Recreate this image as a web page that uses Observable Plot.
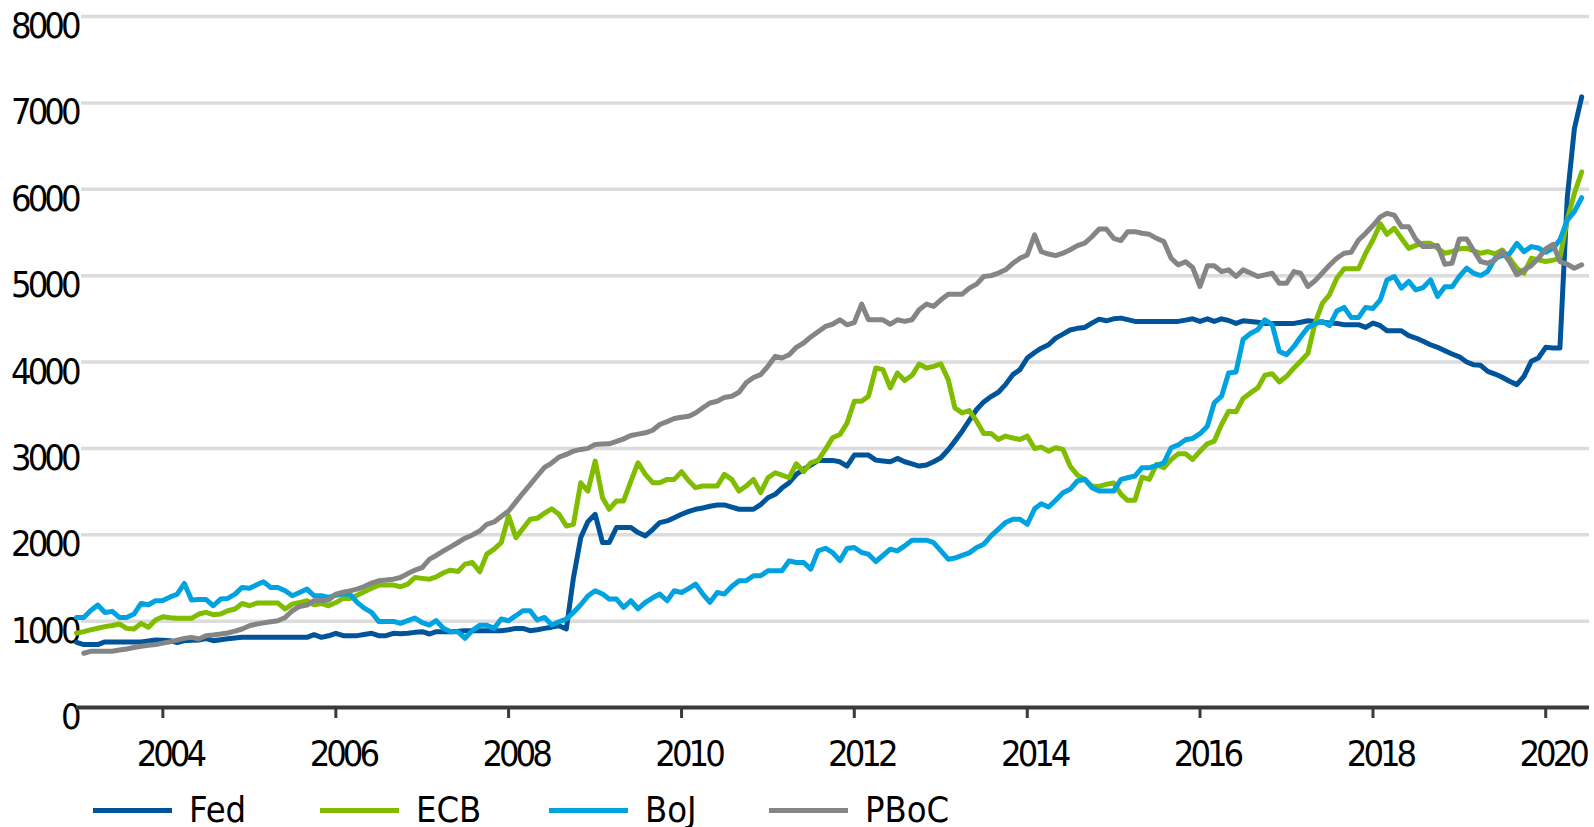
<!DOCTYPE html>
<html><head><meta charset="utf-8">
<script src="https://cdn.jsdelivr.net/npm/d3@7"></script>
<script src="https://cdn.jsdelivr.net/npm/@observablehq/plot@0.6"></script>
<style>
html,body{margin:0;padding:0;background:#fff;}
body{width:1594px;height:827px;overflow:hidden;font-family:"Liberation Sans Narrow","Arial Narrow","DejaVu Sans Condensed",sans-serif;}
#chart svg{display:block;}
#chart svg text{letter-spacing:-4px;}
#legend{position:relative;height:47px;}
.item{position:absolute;top:10px;height:40px;display:flex;align-items:center;font-size:36px;color:#000;line-height:1;}
.sw{width:79px;height:5px;margin-right:17px;}
</style></head><body>
<div id="chart"></div><div id="legend"></div>
<script>
// ---- data: monthly, starting January 2003 ----
const startYear = 2003;
const seriesNames = ["Fed", "ECB", "BoJ", "PBoC"];

const fed = [
 755,728,728,728,759,759,759,759,759,759,770,782,
 780,774,751,774,778,782,797,774,785,797,805,812,
 812,812,812,812,812,812,812,812,812,843,812,830,
 859,832,832,832,845,859,832,832,859,855,859,870,
 878,851,878,878,878,882,889,889,889,889,889,889,
 900,916,916,889,900,916,930,947,909,1500,1967,2150,
 2237,1910,1910,2083,2083,2083,2025,1987,2060,2141,2160,2198,
 2237,2270,2295,2310,2330,2345,2345,2320,2295,2295,2295,2348,
 2429,2468,2540,2603,2699,2760,2807,2861,2861,2861,2845,2795,
 2922,2922,2922,2864,2855,2845,2884,2845,2820,2795,2807,2845,
 2891,2984,3084,3199,3323,3450,3538,3600,3650,3738,3854,3912,
 4046,4110,4160,4200,4277,4323,4370,4390,4400,4450,4496,4477,
 4500,4508,4490,4470,4470,4470,4470,4470,4470,4470,4485,4500,
 4470,4500,4470,4500,4480,4447,4477,4470,4460,4447,4447,4447,
 4447,4447,4460,4477,4470,4460,4451,4447,4432,4432,4432,4400,
 4451,4420,4362,4362,4362,4305,4277,4240,4200,4170,4130,4093,
 4060,4000,3969,3962,3892,3860,3823,3777,3738,3834,4008,4046,
 4170,4162,4162,5900,6700,7070
];
const ecb = [
 859,878,898,917,936,950,967,916,909,974,928,1013,
 1051,1040,1032,1032,1032,1082,1101,1074,1082,1120,1140,1205,
 1178,1209,1209,1209,1209,1140,1197,1215,1236,1190,1205,1178,
 1215,1263,1263,1300,1340,1380,1417,1417,1417,1398,1429,1505,
 1495,1486,1513,1560,1590,1575,1660,1679,1571,1775,1833,1910,
 2218,1967,2070,2179,2190,2250,2300,2237,2102,2121,2602,2506,
 2853,2429,2295,2391,2391,2622,2834,2699,2603,2603,2641,2641,
 2730,2622,2545,2564,2564,2564,2699,2641,2506,2564,2641,2487,
 2660,2718,2690,2660,2822,2730,2833,2861,2988,3122,3160,3290,
 3546,3546,3604,3931,3912,3700,3873,3785,3846,3977,3931,3950,
 3977,3796,3469,3411,3437,3315,3173,3173,3103,3142,3120,3103,
 3142,2999,3014,2968,3007,2988,2795,2691,2641,2564,2560,2583,
 2600,2468,2399,2399,2668,2641,2815,2776,2870,2937,2937,2872,
 2968,3053,3084,3277,3430,3423,3577,3642,3700,3846,3865,3769,
 3834,3931,4008,4100,4450,4680,4778,4970,5079,5079,5079,5259,
 5413,5600,5478,5548,5432,5316,5350,5374,5374,5316,5259,5278,
 5310,5316,5290,5259,5278,5251,5297,5201,5086,5028,5201,5182,
 5163,5180,5200,5650,5950,6200
];
const boj = [
 1043,1043,1120,1186,1101,1113,1043,1043,1082,1205,1190,1236,
 1240,1280,1310,1436,1244,1251,1251,1178,1255,1263,1313,1390,
 1380,1420,1455,1390,1390,1351,1294,1332,1371,1294,1294,1275,
 1300,1313,1313,1217,1150,1101,997,997,997,974,1005,1036,
 982,955,1005,916,878,878,801,893,951,951,916,1024,
 1005,1063,1120,1120,1013,1043,955,993,1024,1101,1190,1290,
 1351,1313,1255,1255,1159,1236,1143,1217,1270,1313,1236,1351,
 1332,1380,1429,1313,1217,1332,1313,1400,1467,1467,1525,1525,
 1582,1582,1582,1698,1679,1679,1602,1813,1844,1794,1700,1840,
 1852,1794,1775,1690,1760,1833,1813,1871,1937,1937,1937,1910,
 1813,1717,1730,1760,1790,1852,1890,1987,2064,2141,2179,2179,
 2121,2300,2360,2321,2400,2487,2526,2622,2641,2545,2506,2506,
 2506,2641,2660,2680,2776,2776,2800,2833,3007,3040,3100,3115,
 3170,3257,3526,3604,3873,3885,4260,4330,4374,4489,4432,4123,
 4085,4180,4290,4400,4440,4470,4420,4590,4632,4516,4516,4632,
 4620,4720,4950,4990,4855,4932,4836,4862,4951,4759,4870,4870,
 4990,5086,5030,5001,5050,5201,5230,5251,5374,5278,5336,5320,
 5270,5316,5413,5644,5740,5902
];
const pboc = [
 null,628,651,651,651,651,665,678,695,709,720,728,
 745,762,780,800,812,793,832,840,850,863,885,909,
 947,967,980,993,1005,1043,1120,1170,1186,1236,1240,1244,
 1313,1336,1350,1370,1400,1440,1467,1475,1486,1505,1550,1590,
 1620,1717,1760,1813,1860,1910,1960,1998,2044,2121,2148,2210,
 2275,2380,2480,2580,2680,2780,2830,2899,2930,2968,2988,3000,
 3045,3050,3053,3080,3110,3150,3165,3180,3210,3276,3310,3346,
 3360,3372,3410,3470,3526,3545,3590,3604,3650,3760,3820,3854,
 3950,4066,4046,4085,4170,4220,4290,4350,4412,4437,4489,4431,
 4457,4670,4489,4489,4489,4437,4489,4470,4489,4605,4670,4643,
 4720,4785,4785,4785,4855,4901,4990,5000,5030,5067,5143,5200,
 5240,5471,5278,5250,5232,5260,5300,5348,5376,5450,5540,5540,
 5432,5406,5509,5509,5490,5478,5432,5394,5201,5125,5160,5094,
 4874,5114,5114,5047,5067,4990,5067,5030,4990,5009,5028,4912,
 4912,5047,5028,4874,4940,5030,5120,5201,5259,5270,5413,5490,
 5580,5680,5721,5700,5567,5567,5420,5336,5336,5348,5132,5143,
 5425,5425,5297,5163,5143,5182,5278,5163,5009,5067,5117,5200,
 5310,5363,5163,5132,5086,5125
];

const xTickYears = [2004, 2006, 2008, 2010, 2012, 2014, 2016, 2018, 2020];
const xTickLabels = ["2004", "2006", "2008", "2010", "2012", "2014", "2016", "2018", "2020"];
const yTicks = [0, 1000, 2000, 3000, 4000, 5000, 6000, 7000, 8000];
const yTickLabels = ["0", "1000", "2000", "3000", "4000", "5000", "6000", "7000", "8000"];

// ---- styles ----
const colors = ["#00549a", "#80bc00", "#00a3df", "#858585"];
const font = '"Liberation Sans Narrow","Arial Narrow","DejaVu Sans Condensed",sans-serif';

const allSeries = [fed, ecb, boj, pboc];
const rows = [];
allSeries.forEach((vals, k) => vals.forEach((v, i) => {
  if (v != null) rows.push({date: new Date(Date.UTC(startYear, i, 1)), value: v, name: seriesNames[k]});
}));
const xTicks = xTickYears.map(y => new Date(Date.UTC(y, 0, 1)));

const chart = Plot.plot({
  width: 1594,
  height: 780,
  marginLeft: 76,
  marginRight: 5,
  marginTop: 16,
  marginBottom: 73,
  style: {fontFamily: font, fontSize: "36px", color: "#000", background: "#fff", overflow: "visible"},
  x: {type: "utc", domain: [new Date(Date.UTC(2003, 0, 1)), new Date(Date.UTC(2020, 6, 4))]},
  y: {domain: [0, 8000]},
  color: {domain: seriesNames, range: colors},
  marks: [
    Plot.ruleY(yTicks.filter(d => d > 0), {stroke: "#dcdcdc", strokeWidth: 3.5, insetLeft: 5}),
    Plot.axisY(yTicks, {tickSize: 0, tickPadding: 0, dx: 1, dy: 10, fontSize: 36, label: null,
      tickFormat: (d) => yTickLabels[yTicks.indexOf(d)]}),
    Plot.lineY(rows, {x: "date", y: "value", z: "name", stroke: "name", strokeWidth: 5, strokeLinejoin: "round"}),
    Plot.ruleY([0], {stroke: "#3a3a3a", strokeWidth: 4}),
    Plot.axisX(xTicks, {tickSize: 11, stroke: "#3a3a3a", strokeWidth: 3, label: null, tickFormat: () => ""}),
    Plot.axisX(xTicks, {tickSize: 0, tickPadding: 33, dx: 7, fontSize: 36, label: null,
      tickFormat: (d) => xTickLabels[xTickYears.indexOf(d.getUTCFullYear())]})
  ]
});
document.getElementById("chart").appendChild(chart);

const legendLeft = [93, 320, 549, 769];
const legend = document.getElementById("legend");
seriesNames.forEach((name, k) => {
  const item = document.createElement("div");
  item.className = "item";
  item.style.left = legendLeft[k] + "px";
  const sw = document.createElement("span");
  sw.className = "sw";
  sw.style.background = colors[k];
  const label = document.createElement("span");
  label.textContent = name;
  item.appendChild(sw);
  item.appendChild(label);
  legend.appendChild(item);
});
</script>
</body></html>
